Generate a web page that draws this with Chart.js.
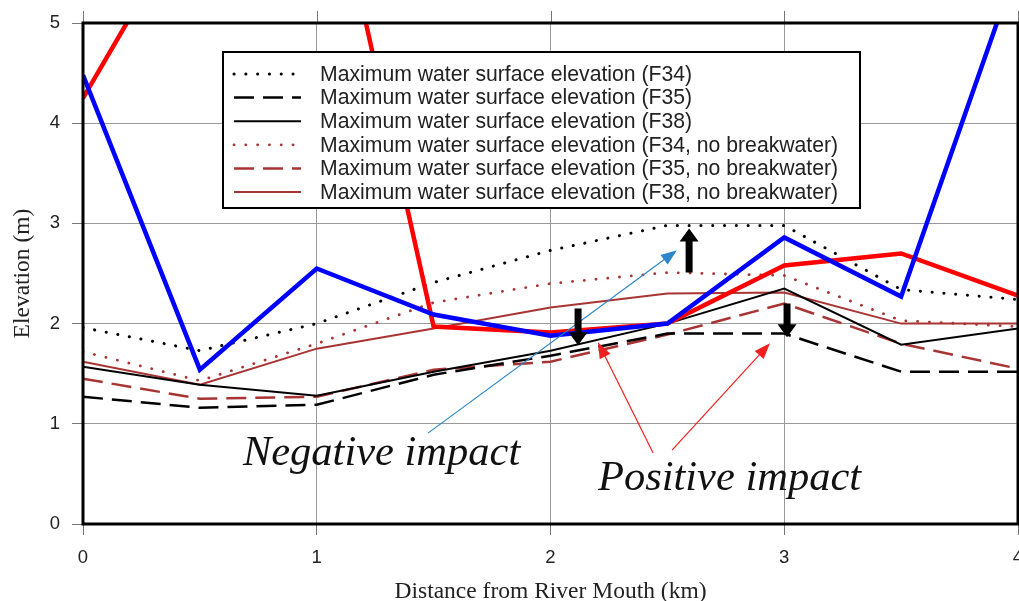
<!DOCTYPE html>
<html>
<head>
<meta charset="utf-8">
<script src="https://cdn.jsdelivr.net/npm/chart.js@4.4.0/dist/chart.umd.min.js"></script>
<style>
  html, body { margin: 0; padding: 0; background: #fff; overflow: hidden; }
</style>
</head>
<body>
<canvas id="elevChart" width="1019" height="601"></canvas>
<script>
// distance from river mouth (km)
const distances = [0, 0.5, 1, 1.5, 2, 2.5, 3, 3.5, 4];

// maximum water surface elevation (m), with breakwater
const f34 = [1.96, 1.73, 2.00, 2.41, 2.73, 2.98, 2.98, 2.34, 2.24];
const f35 = [1.27, 1.16, 1.19, 1.49, 1.68, 1.90, 1.90, 1.52, 1.52];
const f38 = [1.57, 1.39, 1.28, 1.52, 1.73, 2.00, 2.35, 1.79, 1.95];
// same, no breakwater
const f34NoBw = [1.72, 1.43, 1.80, 2.21, 2.40, 2.51, 2.48, 2.03, 1.97];
const f35NoBw = [1.45, 1.25, 1.27, 1.54, 1.62, 1.89, 2.20, 1.80, 1.55];
const f38NoBw = [1.62, 1.39, 1.75, 1.95, 2.16, 2.30, 2.31, 2.00, 2.00];
// thick red and blue lines (not in legend)
const redLine = [4.25, 6.25, 7.20, 1.97, 1.91, 2.00, 2.58, 2.70, 2.28];
const blueLine = [4.48, 1.54, 2.55, 2.09, 1.88, 2.00, 2.86, 2.27, 5.60];

const labels = [
  'Maximum water surface elevation (F34)',
  'Maximum water surface elevation (F35)',
  'Maximum water surface elevation (F38)',
  'Maximum water surface elevation (F34, no breakwater)',
  'Maximum water surface elevation (F35, no breakwater)',
  'Maximum water surface elevation (F38, no breakwater)'
];

// annotations, in data units (km, m)
const negArrow = [[1.476, 0.907], [2.541, 2.732]];
const posArrows = [
  [[2.439, 0.708], [2.203, 1.815]],
  [[2.520, 0.738], [2.939, 1.805]]
];
const upArrows = [[2.593, 2.51, 2.95]];
const downArrows = [[2.118, 2.15, 1.785], [3.012, 2.20, 1.865]];
const negText = ['Negative impact', 0.684, 0.588];
const posText = ['Positive impact', 2.203, 0.339];

const BROWN = '#a83434';

function pts(vals) {
  return vals.map((v, i) => ({ x: distances[i], y: v }));
}

function line(label, vals, color, width, dash, order) {
  return {
    label: label,
    data: pts(vals),
    borderColor: color,
    borderWidth: width,
    borderDash: dash,
    borderCapStyle: dash.length && dash[0] < 1 ? 'round' : 'butt',
    pointRadius: 0,
    fill: false,
    tension: 0,
    clip: 0,
    order: order
  };
}

function headLine(ctx, x1, y1, x2, y2, color) {
  const ang = Math.atan2(y2 - y1, x2 - x1);
  const hl = 16, hw = 6;
  ctx.strokeStyle = color;
  ctx.fillStyle = color;
  ctx.lineWidth = 1.2;
  ctx.beginPath();
  ctx.moveTo(x1, y1);
  ctx.lineTo(x2 - Math.cos(ang) * hl * 0.8, y2 - Math.sin(ang) * hl * 0.8);
  ctx.stroke();
  ctx.beginPath();
  ctx.moveTo(x2, y2);
  ctx.lineTo(x2 - Math.cos(ang) * hl - Math.sin(ang) * hw, y2 - Math.sin(ang) * hl + Math.cos(ang) * hw);
  ctx.lineTo(x2 - Math.cos(ang) * hl + Math.sin(ang) * hw, y2 - Math.sin(ang) * hl - Math.cos(ang) * hw);
  ctx.closePath();
  ctx.fill();
}

function blockArrow(ctx, x, yTail, yHead) {
  const dir = yHead < yTail ? -1 : 1;
  const sw = 3.5, hw = 9.5, hl = 13;
  const yBase = yHead - dir * hl;
  ctx.fillStyle = '#000';
  ctx.beginPath();
  ctx.moveTo(x - sw, yTail);
  ctx.lineTo(x + sw, yTail);
  ctx.lineTo(x + sw, yBase);
  ctx.lineTo(x + hw, yBase);
  ctx.lineTo(x, yHead);
  ctx.lineTo(x - hw, yBase);
  ctx.lineTo(x - sw, yBase);
  ctx.closePath();
  ctx.fill();
}

const overlay = {
  id: 'overlay',
  afterDatasetsDraw(chart) {
    const { ctx, chartArea: a, scales: { x, y } } = chart;
    const px = v => x.getPixelForValue(v);
    const py = v => y.getPixelForValue(v);
    ctx.save();

    // tick marks on top edge
    ctx.strokeStyle = '#777';
    ctx.lineWidth = 1;
    x.ticks.forEach(t => {
      const xx = Math.round(px(t.value)) + 0.5;
      ctx.beginPath();
      ctx.moveTo(xx, a.top - 12);
      ctx.lineTo(xx, a.top);
      ctx.stroke();
    });

    // frame
    ctx.strokeStyle = '#000';
    ctx.lineWidth = 3;
    ctx.strokeRect(a.left, a.top, a.right - a.left, a.bottom - a.top);

    // arrows
    headLine(ctx, px(negArrow[0][0]), py(negArrow[0][1]), px(negArrow[1][0]), py(negArrow[1][1]), '#2a86c8');
    posArrows.forEach(p => headLine(ctx, px(p[0][0]), py(p[0][1]), px(p[1][0]), py(p[1][1]), '#f02020'));
    upArrows.concat(downArrows).forEach(p => blockArrow(ctx, px(p[0]), py(p[1]), py(p[2])));

    // texts
    ctx.fillStyle = '#111';
    ctx.font = 'italic 42.5px "Liberation Serif"';
    ctx.textBaseline = 'alphabetic';
    ctx.textAlign = 'left';
    ctx.fillText(negText[0], px(negText[1]), py(negText[2]));
    ctx.fillText(posText[0], px(posText[1]), py(posText[2]));

    // legend box
    const lx = a.left + 140, ly = a.top + 29, lw = 637, lh = 156;
    ctx.fillStyle = '#fff';
    ctx.fillRect(lx, ly, lw, lh);
    ctx.strokeStyle = '#000';
    ctx.lineWidth = 2;
    ctx.strokeRect(lx, ly, lw, lh);
    ctx.font = '21.2px "Liberation Sans"';
    ctx.textBaseline = 'middle';
    chart.data.datasets.slice(0, 6).forEach((ds, i) => {
      const ry = ly + 22 + i * 23.6;
      ctx.save();
      ctx.strokeStyle = ds.borderColor;
      ctx.lineWidth = ds.borderWidth;
      ctx.setLineDash(ds.borderDash);
      ctx.lineCap = ds.borderCapStyle;
      ctx.beginPath();
      ctx.moveTo(lx + 11, ry);
      ctx.lineTo(lx + 78, ry);
      ctx.stroke();
      ctx.restore();
      ctx.fillStyle = '#222';
      ctx.fillText(ds.label, lx + 97, ry + 1);
    });
    ctx.restore();
  }
};

new Chart(document.getElementById('elevChart'), {
  type: 'line',
  data: {
    datasets: [
      line(labels[0], f34, '#000', 3, [0.1, 11.7], 2),
      line(labels[1], f35, '#000', 2.5, [20, 9], 2),
      line(labels[2], f38, '#000', 2, [], 2),
      line(labels[3], f34NoBw, BROWN, 2.8, [0.1, 11.7], 2),
      line(labels[4], f35NoBw, BROWN, 2.5, [20, 9], 2),
      line(labels[5], f38NoBw, BROWN, 2, [], 2),
      line('red', redLine, '#ff0000', 4.5, [], 1),
      line('blue', blueLine, '#0000ff', 4.5, [], 0)
    ]
  },
  options: {
    responsive: false,
    animation: false,
    layout: { padding: { top: 23, right: 1, left: 0, bottom: 0 } },
    plugins: { legend: { display: false }, tooltip: { enabled: false } },
    scales: {
      x: {
        type: 'linear',
        min: 0,
        max: 4,
        ticks: { stepSize: 1, padding: 12, color: '#222', font: { family: 'Liberation Sans', size: 18.5 } },
        grid: { color: '#999', lineWidth: 1, tickLength: 11, tickColor: '#777' },
        border: { display: false },
        title: {
          display: true,
          text: 'Distance from River Mouth (km)',
          color: '#222',
          font: { family: 'Liberation Serif', size: 23.5, lineHeight: 0.8 },
          padding: { top: 0, bottom: 0 }
        },
        afterFit(s) { s.height = 77; s.paddingLeft = 0; s.paddingRight = 0; }
      },
      y: {
        min: 0,
        max: 5,
        ticks: { stepSize: 1, padding: 12, color: '#222', font: { family: 'Liberation Sans', size: 18.5 } },
        grid: { color: '#999', lineWidth: 1, tickLength: 11, tickColor: '#777' },
        border: { display: false },
        title: {
          display: true,
          text: 'Elevation (m)',
          color: '#222',
          font: { family: 'Liberation Serif', size: 23.5, lineHeight: 1 },
          padding: { top: 11, bottom: 0 }
        },
        afterFit(s) { s.width = 83; s.paddingTop = 0; s.paddingBottom = 0; }
      }
    }
  },
  plugins: [overlay]
});
</script>
</body>
</html>
